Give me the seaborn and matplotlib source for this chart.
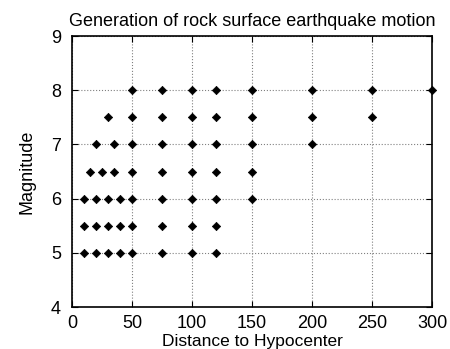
import matplotlib
matplotlib.use("Agg")
import matplotlib.pyplot as plt
import seaborn as sns
import pandas as pd

# distance values for each magnitude row
m50 = [10, 20, 30, 40, 50, 75, 100, 120]
m55 = [10, 20, 30, 40, 50, 75, 100, 120]
m60 = [10, 20, 30, 40, 50, 75, 100, 120, 150]
m65 = [15, 25, 35, 50, 75, 100, 120, 150]
m70 = [20, 35, 50, 75, 100, 120, 150, 200]
m75 = [30, 50, 75, 100, 120, 150, 200, 250]
m80 = [50, 75, 100, 120, 150, 200, 250, 300]
magnitudes = [5.0, 5.5, 6.0, 6.5, 7.0, 7.5, 8.0]

rows = []
for mag, dists in zip(magnitudes, [m50, m55, m60, m65, m70, m75, m80]):
    for d in dists:
        rows.append({"distance": d, "magnitude": mag})
df = pd.DataFrame(rows)

sns.set_style("ticks")
plt.rcParams['font.family'] = ['Liberation Sans', 'DejaVu Sans']
plt.rcParams['text.color'] = 'black'
plt.rcParams['axes.labelcolor'] = 'black'
plt.rcParams['xtick.color'] = 'black'
plt.rcParams['ytick.color'] = 'black'

fig = plt.figure(figsize=(4.5, 3.49), dpi=100)
ax = fig.add_axes([0.16, 0.1203, 0.8, 0.7765])

sns.scatterplot(data=df, x="distance", y="magnitude", marker="D", s=18,
                color="black", edgecolor="black", linewidth=0.5, ax=ax, zorder=3,
                clip_on=False)

ax.set_xlim(0, 300)
ax.set_ylim(4, 9)
ax.set_xticks(range(0, 301, 50))
ax.set_yticks(range(4, 10))
ax.grid(True, color="gray", linestyle=":", linewidth=0.8)
ax.tick_params(direction="in", top=True, right=True, labelsize=13, length=4,
               colors="black")
ax.tick_params(axis="x", pad=6)
ax.tick_params(axis="y", pad=8)
for sp in ax.spines.values():
    sp.set_visible(True)
    sp.set_linewidth(1.2)
    sp.set_color("black")

ax.set_title("Generation of rock surface earthquake motion", fontsize=13, pad=7,
             color="black")
ax.set_xlabel("Distance to Hypocenter", fontsize=12.5, labelpad=1)
ax.set_ylabel("Magnitude", fontsize=13, labelpad=11)

fig.savefig("out.png", dpi=100)
